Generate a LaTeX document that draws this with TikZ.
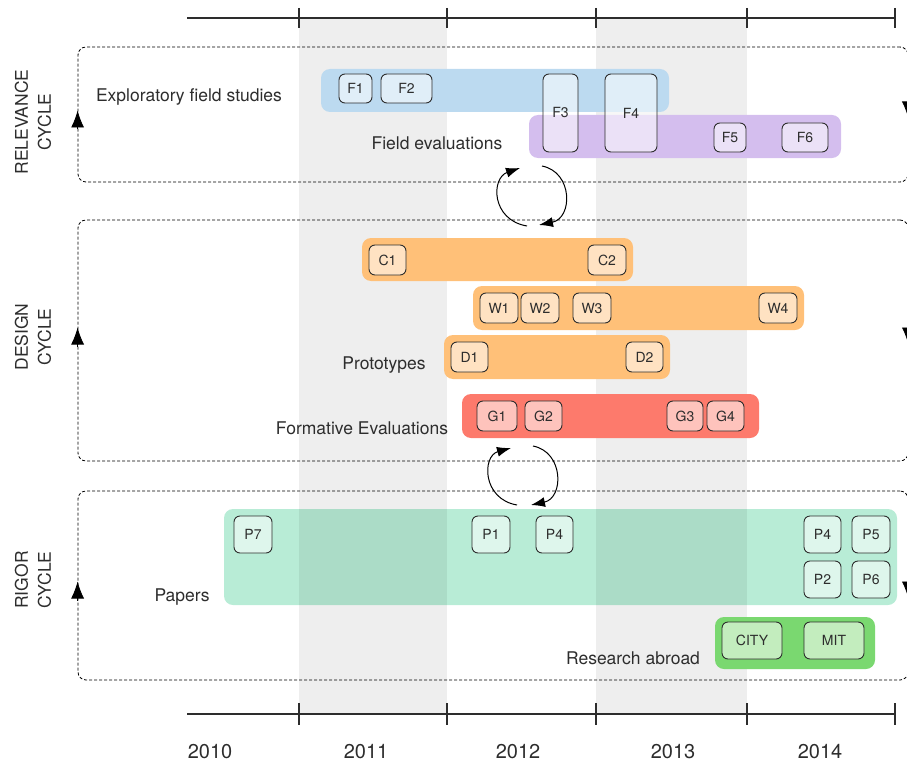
\documentclass[tikz,border=0pt]{standalone}
\usepackage{fontspec}
\setmainfont{TeX Gyre Heros}
\usetikzlibrary{arrows.meta}

\definecolor{textgray}{RGB}{45,45,45}
\definecolor{fieldblue}{RGB}{188,218,240}
\definecolor{fieldpurple}{RGB}{212,190,238}
\definecolor{designorange}{RGB}{255,192,120}
\definecolor{evalred}{RGB}{253,122,108}
\definecolor{papermint}{RGB}{184,236,214}
\definecolor{abroadgreen}{RGB}{122,216,112}

\tikzset{
    txt/.style={text=textgray, font=\fontsize{17.5}{20}\selectfont, inner sep=0pt},
    bar/.style={rounded corners=9pt, inner sep=0pt},
    item/.style={draw=textgray, line width=0.9pt, fill=white, fill opacity=0.55, text opacity=1,
                 rounded corners=6pt, inner sep=0pt, text=textgray, font=\fontsize{14}{16}\selectfont},
    cyclebox/.style={draw, dash pattern=on 3pt off 2pt, line width=0.8pt, rounded corners=8pt, inner sep=0pt},
    boxarrow/.style={-{Latex[length=17pt,width=13pt]}, line width=0.8pt},
    cyclearrow/.style={-{Latex[length=14pt,width=10pt]}, line width=1pt}
}

\begin{document}
\begin{tikzpicture}[x=1pt, y=-1pt]
            \useasboundingbox (0,0) rectangle (907,765);

            % papers bar lies under the year bands
            \node [bar, fill=papermint, minimum width=673, minimum height=96] (papers) at (560.5,557) {};
            \foreach \a/\b in {299/447, 596/747} {
                \fill [black, fill opacity=0.067] (\a,18) rectangle (\b,714);
            }

            % time axes
            \draw [draw=textgray, line width=1.1pt] (187,18) -- (895,18);
            \draw [draw=textgray, line width=1.1pt] (187,714) -- (895,714);
            \foreach \x in {299,447,596,747,895} {
                \draw [draw=textgray, line width=1.1pt] (\x,8) -- (\x,28);
                \draw [draw=textgray, line width=1.1pt] (\x,703) -- (\x,725);
            }
            \foreach \yr/\x in {2010/210, 2011/366, 2012/518, 2013/673, 2014/820} {
                \node [txt, font=\fontsize{20}{24}\selectfont] (y\yr) at (\x,752) {\yr};
            }

            % cycles
            \node [cyclebox, minimum width=830, minimum height=135] (rel) at (493,114.5) {};
            \node [cyclebox, minimum width=830, minimum height=241] (des) at (493,340.5) {};
            \node [cyclebox, minimum width=830, minimum height=189] (rig) at (493,585.5) {};
            \node [txt, rotate=90, align=center, font=\fontsize{17.5}{23}\selectfont] (rellbl) at (33,122) {RELEVANCE\\CYCLE};
            \node [txt, rotate=90, align=center, font=\fontsize{17.5}{23}\selectfont] (deslbl) at (33,337) {DESIGN\\CYCLE};
            \node [txt, rotate=90, align=center, font=\fontsize{17.5}{23}\selectfont] (riglbl) at (33,580) {RIGOR\\CYCLE};

            \draw [boxarrow] ([yshift=-15pt]rel.west) -- ([yshift=4pt]rel.west);
            \draw [boxarrow] ([yshift=-6pt]des.west) -- ([yshift=13pt]des.west);
            \draw [boxarrow] ([yshift=-15pt]rig.west) -- ([yshift=4pt]rig.west);
            \draw [boxarrow] ([yshift=15pt]rel.east) -- ([yshift=-4pt]rel.east);
            \draw [boxarrow] ([yshift=15pt]des.east) -- ([yshift=-4pt]des.east);
            \draw [boxarrow] ([yshift=6pt]rig.east) -- ([yshift=-13pt]rig.east);

            % bars
            \node [bar, fill=fieldblue, minimum width=348, minimum height=43] (expl) at (495,90.5) {};
            \node [bar, fill=fieldpurple, minimum width=312, minimum height=43] (feval) at (685,136.5) {};
            \node [bar, fill=designorange, minimum width=271, minimum height=43] (conc) at (497.5,259.5) {};
            \node [bar, fill=designorange, minimum width=331, minimum height=44] (work) at (638.5,308) {};
            \node [bar, fill=designorange, minimum width=226, minimum height=44] (proto) at (557,357) {};
            \node [bar, fill=evalred, minimum width=297, minimum height=44] (form) at (610.5,416) {};
            \node [bar, fill=abroadgreen, minimum width=160, minimum height=52] (abroad) at (795,643) {};

            \node [txt] (expllbl) at (189,97) {Exploratory field studies};
            \node [txt] (fevallbl) at (437,143) {Field evaluations};
            \node [txt] (protolbl) at (384,365) {Prototypes};
            \node [txt] (formlbl) at (362,428) {Formative Evaluations};
            \node [txt] (paperslbl) at (182,597) {Papers};
            \node [txt] (abroadlbl) at (633,658) {Research abroad};

            % items
            \foreach \n/\t/\x/\y/\w/\h in {F1/F1/355.5/88.5/33/29, F2/F2/406.5/88.5/51/29,
                    F3/F3/560.5/113/35/78, F4/F4/631/113/52/78, F5/F5/730/137.5/32/29, F6/F6/805/137.5/46/29,
                    C1/C1/387.5/260/37/30, C2/C2/607/260/38/30,
                    W1/W1/499/308/38/30, W2/W2/540/308/38/30, W3/W3/592/308/38/30, W4/W4/778/308/38/30,
                    D1/D1/469.5/357/37/30, D2/D2/644.5/357/37/30,
                    G1/G1/497/416/40/30, G2/G2/543.5/416/37/30, G3/G3/685/416/36/30, G4/G4/725.5/416/37/30,
                    P7/P7/253/534.5/38/37, P1/P1/491/534.5/38/37, P4a/P4/554.5/534.5/37/37,
                    P4b/P4/822.5/534.5/37/37, P5/P5/871/534.5/38/37, P2/P2/822.5/579.5/37/37, P6/P6/871/579.5/38/37,
                    CITY/CITY/752/640.5/60/37, MIT/MIT/834/640.5/60/37} {
                \node [item, minimum width=\w, minimum height=\h] (\n) at (\x,\y) {\t};
            }

            % iteration arrows
            \coordinate (relout) at (527,226);
            \coordinate (relin) at (520,168);
            \coordinate (desin) at (539,225);
            \coordinate (desout) at (542,166);
            \draw [cyclearrow] (relout) .. controls (491,220) and (491,178) .. (relin);
            \draw [cyclearrow] (desout) .. controls (573,172) and (573,218) .. (desin);
            \coordinate (rigout) at (517,505);
            \coordinate (rigin) at (531,505);
            \coordinate (formin) at (511,448);
            \coordinate (formout) at (533,446);
            \draw [cyclearrow] (rigout) .. controls (482,499) and (482,456) .. (formin);
            \draw [cyclearrow] (formout) .. controls (564,452) and (564,498) .. (rigin);

        \end{tikzpicture}
\end{document}
